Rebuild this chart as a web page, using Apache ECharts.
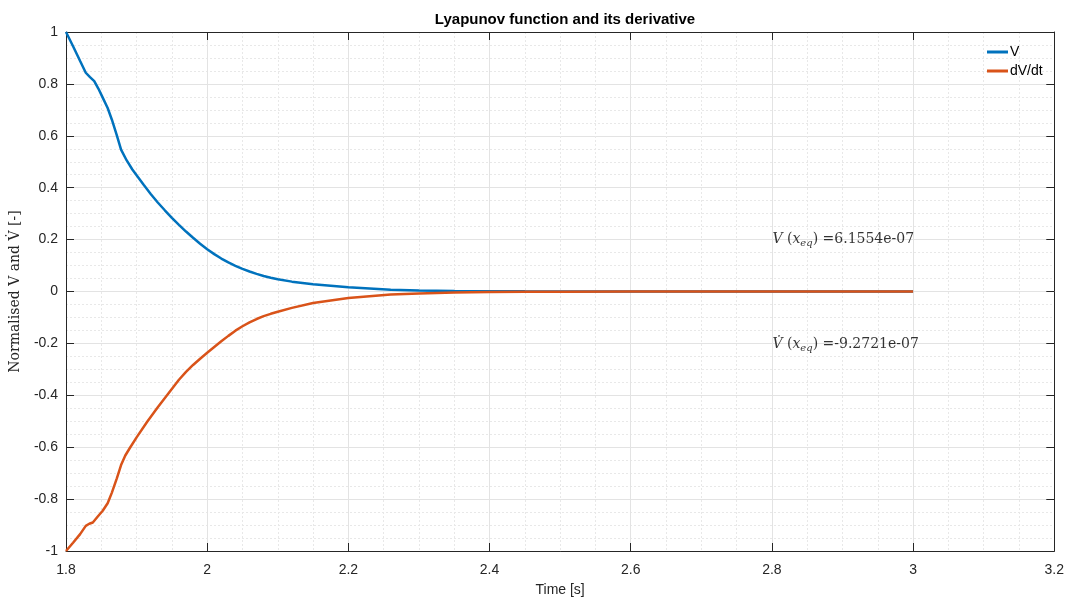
<!DOCTYPE html>
<html>
<head>
<meta charset="utf-8">
<script src="https://cdn.jsdelivr.net/npm/echarts@6/dist/echarts.min.js"></script>
<style>html,body{margin:0;padding:0;background:#fff}#c{width:1067px;height:602px}</style>
</head>
<body>
<div id="c"></div>
<script>
// Data
var timeV = [1.80, 1.81, 1.82, 1.828, 1.834, 1.840, 1.846, 1.852, 1.859, 1.865, 1.872, 1.878, 1.886, 1.894, 1.90, 1.91, 1.92, 1.93, 1.94, 1.95, 1.96, 1.97, 1.98, 1.99, 2.00, 2.01, 2.02, 2.03, 2.04, 2.05, 2.06, 2.07, 2.08, 2.09, 2.10, 2.12, 2.15, 2.20, 2.26, 2.30, 2.35, 2.40, 2.45, 2.50, 2.60, 2.70, 2.80, 2.90, 3.00];
var vValues = [1.000, 0.945, 0.888, 0.843, 0.826, 0.811, 0.781, 0.747, 0.707, 0.662, 0.602, 0.547, 0.505, 0.470, 0.448, 0.411, 0.376, 0.343, 0.313, 0.284, 0.257, 0.231, 0.207, 0.184, 0.163, 0.144, 0.127, 0.112, 0.099, 0.087, 0.077, 0.068, 0.060, 0.053, 0.047, 0.038, 0.028, 0.016, 0.007, 0.004, 0.002, 0.001, 0.0005, 0.0002, 0.0001, 0, 0, 0, 0];
var timeDV = [1.80, 1.81, 1.82, 1.828, 1.833, 1.838, 1.845, 1.852, 1.859, 1.865, 1.872, 1.878, 1.884, 1.890, 1.90, 1.915, 1.93, 1.945, 1.96, 1.97, 1.98, 1.99, 2.00, 2.01, 2.02, 2.03, 2.04, 2.05, 2.06, 2.07, 2.08, 2.09, 2.10, 2.12, 2.15, 2.20, 2.26, 2.30, 2.35, 2.40, 2.45, 2.50, 2.60, 2.70, 2.80, 2.90, 3.00];
var dvValues = [-1.000, -0.968, -0.935, -0.903, -0.895, -0.890, -0.867, -0.845, -0.816, -0.775, -0.720, -0.669, -0.632, -0.605, -0.562, -0.502, -0.446, -0.393, -0.340, -0.310, -0.283, -0.259, -0.236, -0.214, -0.192, -0.171, -0.151, -0.134, -0.119, -0.106, -0.095, -0.086, -0.078, -0.063, -0.044, -0.025, -0.012, -0.008, -0.004, -0.002, -0.001, -0.0005, -0.0001, 0, 0, 0, 0];
var seriesNames = ['V', 'dV/dt'];
var titleText = 'Lyapunov function and its derivative';
var xName = 'Time [s]';
var yName = 'Normalised V and V\u0307 [-]';
var annotT = [2.8, 2.8];
var annotV = [0.2, -0.205];
var annotValues = ['6.1554e-07', '-9.2721e-07'];
var annotSymbols = ['V', 'V\u0307'];

var vData = timeV.map(function (t, i) { return [t, vValues[i]]; });
var dvData = timeDV.map(function (t, i) { return [t, dvValues[i]]; });
var annotData = annotT.map(function (t, i) { return [t, annotV[i]]; });

var axisColor = '#262626';
var font = 'Liberation Sans, Arial, sans-serif';
var serif = 'DejaVu Serif, Liberation Serif, serif';

var rich = {
  it: {fontFamily: serif, fontStyle: 'italic', fontSize: 14, color: '#000'},
  sub: {fontFamily: serif, fontStyle: 'italic', fontSize: 10, color: '#000', padding: [8, 0, 0, 0]},
  rm: {fontFamily: serif, fontSize: 14, color: '#000'}
};

function fmt(v) { return +v.toFixed(1) + ''; }
function commonX(show) {
  return {
    type: 'value', min: 1.8, max: 3.2, interval: 0.2,
    axisLine: {show: true, onZero: false, lineStyle: {color: axisColor, width: 1}},
    axisTick: {show: true, inside: true, length: 8, lineStyle: {color: axisColor}},
    axisLabel: {show: show, color: axisColor, fontSize: 14, fontFamily: font, margin: 12, formatter: fmt},
    splitLine: {show: show, lineStyle: {color: '#e3e3e3', width: 1}},
    minorTick: {show: false, splitNumber: 4},
    minorSplitLine: {show: show, lineStyle: {color: '#e8e8e8', type: [2, 2], width: 1}}
  };
}
function commonY(show) {
  return {
    type: 'value', min: -1, max: 1, interval: 0.2,
    axisLine: {show: true, onZero: false, lineStyle: {color: axisColor, width: 1}},
    axisTick: {show: true, inside: true, length: 8, lineStyle: {color: axisColor}},
    axisLabel: {show: show, color: axisColor, fontSize: 14, fontFamily: font, margin: 8, formatter: fmt},
    splitLine: {show: show, lineStyle: {color: '#e3e3e3', width: 1}},
    minorTick: {show: false, splitNumber: 4},
    minorSplitLine: {show: show, lineStyle: {color: '#e8e8e8', type: [2, 2], width: 1}}
  };
}

var x0 = commonX(true);
x0.name = xName; x0.nameLocation = 'middle'; x0.nameGap = 32;
x0.nameTextStyle = {color: axisColor, fontSize: 14, fontFamily: font};
var x1 = commonX(false); x1.position = 'top';
var y0 = commonY(true);
y0.name = yName; y0.nameLocation = 'middle'; y0.nameGap = 44;
y0.nameTextStyle = {color: axisColor, fontSize: 14, fontFamily: serif};
var y1 = commonY(false); y1.position = 'right';

var chart = echarts.init(document.getElementById('c'), null, {renderer: 'canvas'});
chart.setOption({
  backgroundColor: '#fff',
  animation: false,
  title: {text: titleText, left: 560, top: 7, textAlign: 'center',
    textStyle: {fontSize: 15, fontWeight: 'bold', color: '#000', fontFamily: font}},
  legend: {
    data: seriesNames, orient: 'vertical', left: 982, top: 40, itemGap: 5,
    itemWidth: 21, itemHeight: 3, icon: 'rect',
    textStyle: {fontSize: 14, color: '#000', fontFamily: font, padding: [0, 0, 0, -3]}
  },
  grid: {left: 65, right: 12, top: 32, bottom: 49, containLabel: false},
  xAxis: [x0, x1],
  yAxis: [y0, y1],
  series: [
    {name: seriesNames[0], type: 'line', data: vData, showSymbol: false, smooth: false,
      lineStyle: {color: '#0072BD', width: 2.5}, itemStyle: {color: '#0072BD'}},
    {name: seriesNames[1], type: 'line', data: dvData, showSymbol: false, smooth: false,
      lineStyle: {color: '#D95319', width: 2.5}, itemStyle: {color: '#D95319'}},
    {name: 'annotations', type: 'scatter', data: annotData, symbolSize: 1, silent: true,
      itemStyle: {color: 'rgba(0,0,0,0)'},
      label: {show: true, position: 'right', distance: 0, color: '#000', rich: rich,
        formatter: function (p) {
          return '{it|' + annotSymbols[p.dataIndex] + '}{rm| (}{it|x}{sub|eq}{rm|) =' + annotValues[p.dataIndex] + '}';
        }}}
  ]
});
</script>
</body>
</html>
